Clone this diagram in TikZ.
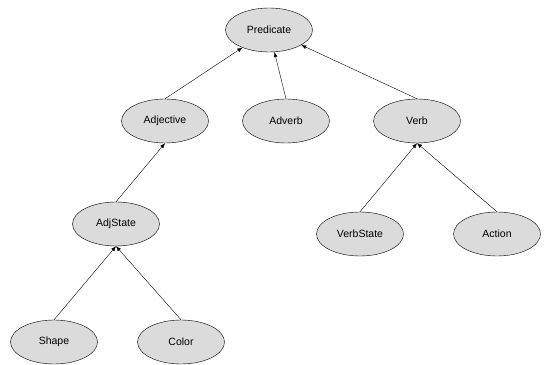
\documentclass[tikz,border=0pt]{standalone}
\usepackage{fontspec}
\setmainfont{Liberation Sans}
\usetikzlibrary{arrows.meta,shapes.geometric}

\begin{document}
\begin{tikzpicture}[x=1pt,y=1pt,>={Latex[length=5pt,width=4pt]},
  every node/.style={font=\fontsize{10.5}{12}\selectfont},
  cls/.style={draw,ellipse,fill=gray!28,minimum width=87pt,minimum height=44pt,inner sep=0pt}]
\useasboundingbox (0,0) rectangle (548,364);
\node[cls] (pred) at (269,334) {Predicate};
\node[cls] (adj) at (165,243) {Adjective};
\node[cls] (adv) at (286,243) {Adverb};
\node[cls] (verb) at (417,243) {Verb};
\node[cls] (adjst) at (116,140) {AdjState};
\node[cls] (verbst) at (360,130) {VerbState};
\node[cls] (act) at (497,130) {Action};
\node[cls] (shape) at (54,22) {Shape};
\node[cls] (color) at (181,22) {Color};
\foreach \x in {adj,adv,verb}{\draw[->] (\x.north) -- (pred);}
\draw[->] (adjst.north) -- (adj.south);
\foreach \x in {shape,color}{\draw[->] (\x.north) -- (adjst.south);}
\foreach \x in {verbst,act}{\draw[->] (\x.north) -- (verb.south);}
\end{tikzpicture}
\end{document}
